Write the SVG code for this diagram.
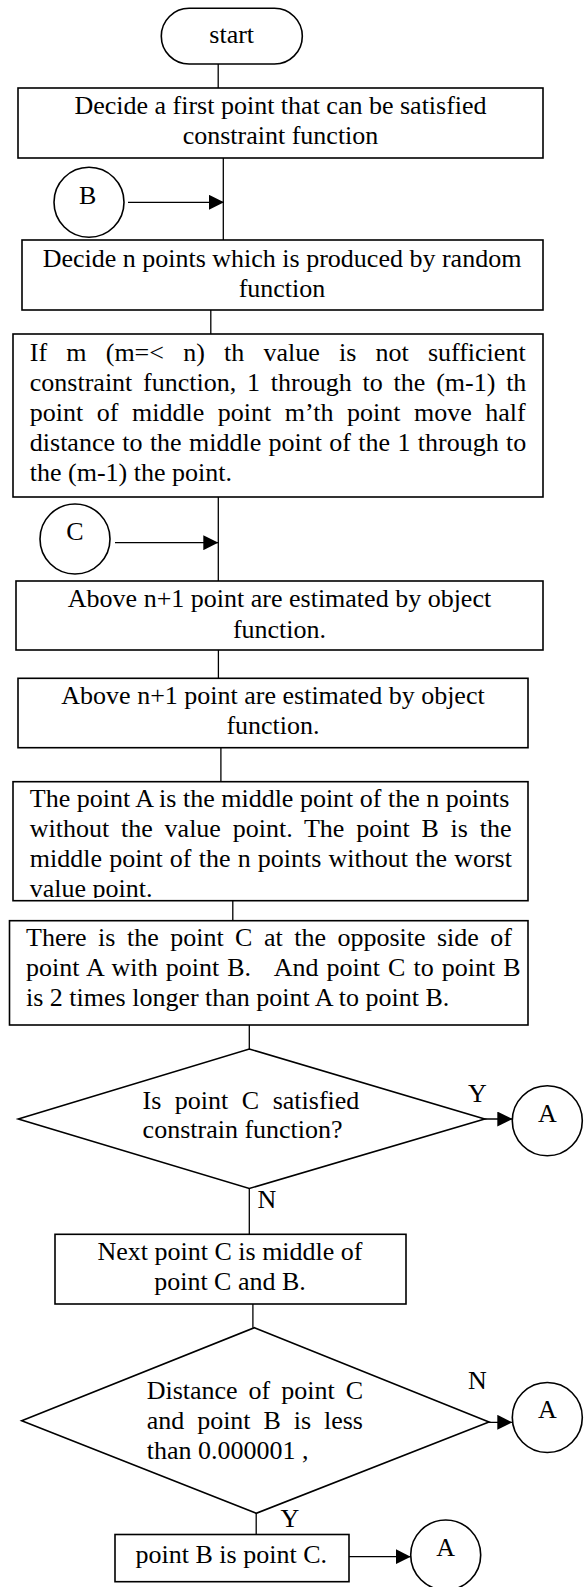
<svg xmlns="http://www.w3.org/2000/svg" width="584" height="1587" viewBox="0 0 584 1587">
  <style>
    .box { fill: #fff; stroke: #000; stroke-width: 1.6; }
    .ln { fill: none; stroke: #000; stroke-width: 1.3; }
    .t { font-family: "Liberation Serif", "Times New Roman", serif; font-size: 26px; fill: #000; font-variant-ligatures: none; }
    .c { text-anchor: middle; }
  </style>
  <defs>
    <marker id="arrow" markerUnits="userSpaceOnUse" markerWidth="15" markerHeight="15" refX="15" refY="7.5" orient="auto">
      <path d="M0,0 L15,7.5 L0,15 Z" fill="#000"/>
    </marker>
    <clipPath id="clip-box6">
      <rect x="13" y="782" width="515" height="116"/>
    </clipPath>
  </defs>

  <!-- connectors -->
  <g id="connectors">
    <line class="ln" x1="218.2" y1="64" x2="218.2" y2="88"/>
    <line class="ln" x1="223.3" y1="158" x2="223.3" y2="240"/>
    <line class="ln" x1="210.8" y1="310" x2="210.8" y2="334"/>
    <line class="ln" x1="218.3" y1="491" x2="218.3" y2="581"/>
    <line class="ln" x1="218.4" y1="650" x2="218.4" y2="678"/>
    <line class="ln" x1="220.9" y1="748" x2="220.9" y2="782"/>
    <line class="ln" x1="232.8" y1="897" x2="232.8" y2="921"/>
    <line class="ln" x1="249.3" y1="1025" x2="249.3" y2="1049"/>
    <line class="ln" x1="249.3" y1="1188.5" x2="249.3" y2="1234.3"/>
    <line class="ln" x1="252.9" y1="1302" x2="252.9" y2="1327.7"/>
    <line class="ln" x1="256.2" y1="1513.3" x2="256.2" y2="1534.5"/>
    <!-- off-page entries and exits -->
    <line class="ln" x1="128" y1="202.3" x2="224" y2="202.3" marker-end="url(#arrow)"/>
    <line class="ln" x1="115" y1="542.7" x2="218.3" y2="542.7" marker-end="url(#arrow)"/>
    <line class="ln" x1="465.7" y1="1119" x2="512.3" y2="1119" marker-end="url(#arrow)"/>
    <line class="ln" x1="465.7" y1="1422.3" x2="512.3" y2="1422.3" marker-end="url(#arrow)"/>
    <line class="ln" x1="349" y1="1556.7" x2="410.7" y2="1556.7" marker-end="url(#arrow)"/>
    <text class="t c" x="477.3" y="1101.7">Y</text>
    <text class="t c" x="267" y="1208.3">N</text>
    <text class="t c" x="477.3" y="1389.3">N</text>
    <text class="t c" x="290" y="1526.7">Y</text>
  </g>

  <g id="start">
    <rect class="box" x="161.3" y="8.3" width="141" height="55.7" rx="27.8"/>
    <text class="t c" x="231.7" y="43">start</text>
  </g>

  <g id="first-point">
    <rect class="box" x="18" y="88" width="525" height="70"/>
    <text class="t c" x="280.5" y="114">Decide a first point that can be satisfied</text>
    <text class="t c" x="280.5" y="144">constraint function</text>
  </g>

  <g id="connector-B">
    <circle class="box" cx="89" cy="202.3" r="35"/>
    <text class="t c" x="87.7" y="204">B</text>
  </g>

  <g id="random-points">
    <rect class="box" x="22" y="240" width="521" height="70"/>
    <text class="t c" x="282" y="267">Decide n points which is produced by random</text>
    <text class="t c" x="282" y="297">function</text>
  </g>

  <g id="move-half">
    <rect class="box" x="13" y="334" width="530" height="163"/>
    <text class="t" x="29.8" y="361" word-spacing="12.7">If m (m=&lt; n) th value is not sufficient</text>
    <text class="t" x="29.8" y="391" word-spacing="4.3">constraint function, 1 through to the (m-1) th</text>
    <text class="t" x="29.8" y="421" word-spacing="7.06">point of middle point m’th point move half</text>
    <text class="t" x="29.8" y="451" word-spacing="0.84">distance to the middle point of the 1 through to</text>
    <text class="t" x="29.8" y="481">the (m-1) the point.</text>
  </g>

  <g id="connector-C">
    <circle class="box" cx="75" cy="539" r="35"/>
    <text class="t c" x="75" y="540">C</text>
  </g>

  <g id="estimate-1">
    <rect class="box" x="16" y="581" width="527" height="69"/>
    <text class="t c" x="279.5" y="607">Above n+1 point are estimated by object</text>
    <text class="t c" x="279.5" y="637.5">function.</text>
  </g>

  <g id="estimate-2">
    <rect class="box" x="18" y="678.3" width="510" height="69.4"/>
    <text class="t c" x="273" y="704">Above n+1 point are estimated by object</text>
    <text class="t c" x="273" y="734">function.</text>
  </g>

  <g id="middle-points">
    <rect class="box" x="13" y="781.7" width="515" height="119"/>
    <g clip-path="url(#clip-box6)">
      <text class="t" x="29.8" y="807">The point A is the middle point of the n points</text>
      <text class="t" x="29.8" y="837" word-spacing="5.3">without the value point. The point B is the</text>
      <text class="t" x="29.8" y="867" word-spacing="0.69">middle point of the n points without the worst</text>
      <text class="t" x="29.8" y="897">value point.</text>
    </g>
  </g>

  <g id="point-C">
    <rect class="box" x="9.5" y="920.7" width="518.5" height="104.3"/>
    <text class="t" x="26" y="945.5" word-spacing="4.98">There is the point C at the opposite side of</text>
    <text class="t" x="26" y="975.5" word-spacing="1.55" xml:space="preserve">point A with point B.   And point C to point B</text>
    <text class="t" x="26" y="1005.5">is 2 times longer than point A to point B.</text>
  </g>

  <g id="check-constraint">
    <polygon class="box" points="249.3,1049 484.7,1119 249.3,1188.5 18.3,1119"/>
    <text class="t" x="142.6" y="1109" word-spacing="7">Is point C satisfied</text>
    <text class="t" x="142.6" y="1138">constrain function?</text>
  </g>

  <g id="exit-A-1">
    <circle class="box" cx="547.3" cy="1120.7" r="35"/>
    <text class="t c" x="547.3" y="1121.7">A</text>
  </g>

  <g id="next-C">
    <rect class="box" x="55" y="1234.3" width="351" height="69.7"/>
    <text class="t c" x="230" y="1259.7">Next point C is middle of</text>
    <text class="t c" x="230" y="1290">point C and B.</text>
  </g>

  <g id="check-distance">
    <polygon class="box" points="254.4,1327.7 489,1422 256.2,1513.3 21.7,1420.7"/>
    <text class="t" x="146.7" y="1398.5" word-spacing="4.47">Distance of point C</text>
    <text class="t" x="146.7" y="1428.7" word-spacing="6.4">and point B is less</text>
    <text class="t" x="146.7" y="1459">than 0.000001 ,</text>
  </g>

  <g id="exit-A-2">
    <circle class="box" cx="547.3" cy="1417.5" r="35"/>
    <text class="t c" x="547.3" y="1418.3">A</text>
  </g>

  <g id="assign-B">
    <rect class="box" x="115" y="1534.5" width="234" height="47.2"/>
    <text class="t c" x="231.3" y="1563.3">point B is point C.</text>
  </g>

  <g id="exit-A-3">
    <circle class="box" cx="445.7" cy="1555" r="35"/>
    <text class="t c" x="445.7" y="1556">A</text>
  </g>
</svg>
